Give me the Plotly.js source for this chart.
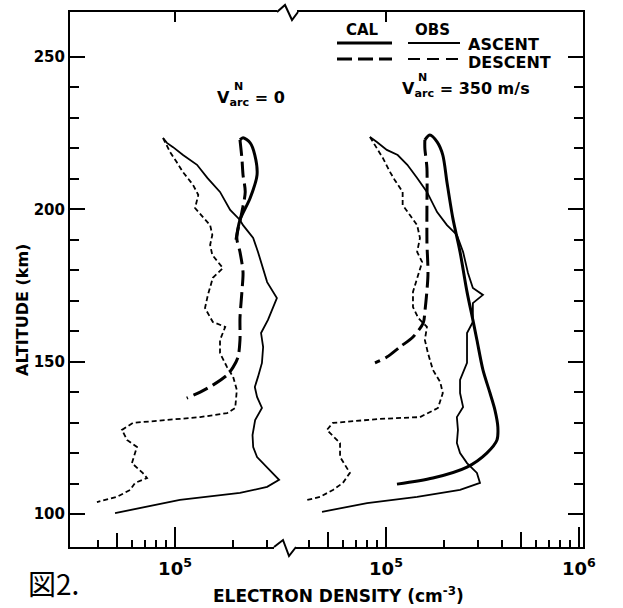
<!DOCTYPE html>
<html>
<head>
<meta charset="utf-8">
<script src="https://cdn.plot.ly/plotly-3.0.1.min.js"></script>
<style>html,body{margin:0;padding:0;background:#fff;}#chart{width:623px;height:608px;}</style>
</head>
<body>
<div id="chart"></div>
<script>
// ---------- Data (electron density in cm^-3, altitude in km) ----------
// Left panel: V_arc^N = 0
const obsAscAltL = [100.3,104.6,106.9,108.9,111.2,114.4,118.7,122.0,125.9,130.8,134.8,138.4,141.7,145.0,149.6,154.8,159.4,163.7,170.9,176.1,180.7,186.0,190.6,194.8,196.5,199.8,205.7,210.3,214.6,217.8,220.4,221.8,223.4];
const obsAscNL   = [48900,106000,217000,300000,346000,310000,266000,254000,252000,260000,282000,266000,259000,269000,282000,286000,279000,303000,337000,300000,286000,269000,254000,225000,217000,193000,171000,147000,130000,110000,97700,90800,86700];

const obsDesAltL = [223.4,218.8,215.5,212.2,208.0,204.7,200.4,197.5,194.8,191.6,188.3,185.0,181.7,180.7,177.5,171.9,167.6,163.0,161.4,157.1,152.8,148.2,145.0,140.7,134.8,133.1,131.8,130.8,129.9,127.6,124.3,122.0,116.7,113.4,111.8,110.2,107.9,105.6,103.9];
const obsDesNL   = [86700,94200,102000,110000,124000,132000,127000,140000,152000,156000,152000,156000,171000,177000,157000,148000,143000,157000,182000,171000,171000,186000,200000,209000,205000,186000,135000,90800,60500,53100,56400,63500,59800,68200,71600,62100,58500,50000,39400];

const calAscAltL = [190.0,196.5,203.7,211.3,217.8,221.8,223.5,222.8];
const calAscNL   = [207000,217000,245000,266000,259000,245000,225000,217000];

const calDesAltL = [222.8,216.8,211.3,205.7,199.1,190.6,186.0,179.4,172.9,164.3,157.1,151.5,148.2,145.6,142.3,140.0,138.0];
const calDesNL   = [217000,222000,225000,231000,222000,209000,217000,225000,222000,217000,217000,212000,200000,186000,157000,135000,115000];

// Right panel: V_arc^N = 350 m/s
const obsAscAltR = [100.7,103.6,105.6,107.9,110.2,113.5,116.7,120.0,123.3,127.6,131.8,135.1,139.7,144.0,149.6,153.8,159.4,163.0,169.2,171.9,174.2,179.1,186.0,191.6,194.8,199.1,205.7,210.3,214.6,217.8,219.5,222.1,223.7];
const obsAscNR   = [46600,79800,145000,242000,307000,296000,263000,242000,233000,236000,233000,251000,242000,242000,263000,263000,263000,282000,282000,318000,282000,266000,251000,233000,207000,184000,163000,145000,129000,115000,101000,89700,82600];

const obsDesAltR = [223.7,220.1,216.8,212.2,209.6,205.7,201.4,198.1,194.8,190.6,186.0,182.7,178.4,172.9,167.9,164.3,161.4,157.1,152.8,147.3,143.3,139.7,134.8,131.8,131.2,129.9,127.6,123.3,118.7,113.5,110.2,107.9,105.6,104.6];
const obsDesNR   = [82600,89700,96400,105000,111000,122000,122000,133000,145000,150000,145000,154000,147000,138000,138000,147000,163000,159000,165000,175000,191000,197000,186000,150000,93100,53100,49400,57800,57800,65000,59800,53100,45500,39000];

const calAscAltR = [109.8,111.8,115.4,120.0,124.3,128.5,134.1,139.7,147.3,157.1,163.7,172.9,186.0,197.1,208.9,217.8,222.1,224.4,222.8];
const calAscNR   = [114000,175000,263000,333000,376000,380000,367000,346000,318000,296000,282000,263000,242000,222000,207000,197000,184000,169000,159000];

const calDesAltR = [222.8,220.1,213.5,200.4,189.3,178.4,166.3,162.7,158.1,154.8,151.5,149.6];
const calDesNR   = [159000,159000,163000,163000,163000,165000,159000,156000,138000,118000,101000,87700];

// Tick values / labels
const yMajor = [100,150,200,250];
const yMinor = [110,120,130,140,160,170,180,190,210,220,230,240];
const xMajorL = [1e5], xMajorTextL = ['10<sup>5</sup>'];
const xMajorR = [1e5,1e6], xMajorTextR = ['10<sup>5</sup>','10<sup>6</sup>'];
const xMinorL = [4e4,6e4,7e4,8e4,9e4,2e5,3e5];
const xMinorR = [4e4,6e4,7e4,8e4,9e4,2e5,3e5,4e5,6e5,7e5,8e5,9e5];
const xMidL = [5e4], xMidR = [5e4,5e5];
const xTop = [1e5];

// ---------- Styling ----------
const K = '#000';
const FONT = 'DejaVu Sans, sans-serif';
const obsSolid = {color:K, width:1.8};
const obsDash  = {color:K, width:1.8, dash:'5px,3px'};
const calSolid = {color:K, width:3, shape:'spline', smoothing:0.8};
const calDash  = {color:K, width:3, dash:'16px,6px', shape:'spline', smoothing:0.8};

function tr(x, y, line, xa) {
  return {type:'scatter', mode:'lines', x:x, y:y, line:line, xaxis:xa, yaxis:'y', showlegend:false, hoverinfo:'skip'};
}
function empty(xa, ya) {
  return {type:'scatter', mode:'lines', x:[], y:[], xaxis:xa, yaxis:ya || 'y', showlegend:false, hoverinfo:'skip'};
}

const data = [
  tr(obsAscNL, obsAscAltL, obsSolid, 'x'),
  tr(obsDesNL, obsDesAltL, obsDash, 'x'),
  tr(calAscNL, calAscAltL, calSolid, 'x'),
  tr(calDesNL, calDesAltL, calDash, 'x'),
  tr(obsAscNR, obsAscAltR, obsSolid, 'x2'),
  tr(obsDesNR, obsDesAltR, obsDash, 'x2'),
  tr(calAscNR, calAscAltR, calSolid, 'x2'),
  tr(calDesNR, calDesAltR, calDash, 'x2'),
  empty('x3'), empty('x4'), empty('x5'), empty('x6'), empty('x2', 'y2')
];

const SPLIT = 0.423;
const rangeL = [4.456, 5.580];
const rangeR = [4.487, 6.021];
const yRange = [89.17, 264.75];
const tickFont = {family:FONT, size:18, color:K, weight:'bold'};

function mainX(domain, range, tv, tt, minor) {
  return {type:'log', domain:domain, range:range, anchor:'y', showline:true, linecolor:K, linewidth:2,
    mirror:true, ticks:'inside', ticklen:20, tickwidth:2, tickcolor:K, tickmode:'array',
    tickvals:tv, ticktext:tt, tickfont:tickFont, ticklabelstandoff:4, showgrid:false, zeroline:false, fixedrange:true,
    minor:{tickmode:'array', tickvals:minor, ticks:'inside', ticklen:7, tickwidth:2, tickcolor:K, showgrid:false}};
}
function overX(over, range, side, tv, len) {
  return {type:'log', overlaying:over, anchor:'y', side:side, range:range, showline:false,
    ticks:'inside', ticklen:len, tickwidth:2, tickcolor:K, tickmode:'array', tickvals:tv,
    showticklabels:false, showgrid:false, zeroline:false, fixedrange:true};
}

const P = (x) => (x - 70) / 513;     // pixel -> paper x
const Q = (y) => (547 - y) / 535;    // pixel -> paper y

const lab = (text, x, y, size, opts) => Object.assign({
  text:text, xref:'paper', yref:'paper', x:x, y:y, showarrow:false,
  font:{family:FONT, size:size, color:K, weight:'bold'}, xanchor:'center', yanchor:'middle'
}, opts || {});

const annotations = [
  lab('CAL', P(362), Q(30), 15),
  lab('OBS', P(432), Q(30), 15),
  lab('ASCENT', P(466), Q(44), 16, {xanchor:'left'}),
  lab('DESCENT', P(466), Q(62), 16, {xanchor:'left'}),
  lab('V<sub>arc</sub> = 0', P(215), Q(99), 16, {xanchor:'left'}),
  lab('N', P(232), Q(86), 11, {xanchor:'left'}),
  lab('V<sub>arc</sub> = 350 m/s', P(400), Q(90), 16, {xanchor:'left'}),
  lab('N', P(416), Q(77), 11, {xanchor:'left'}),
  lab('ELECTRON DENSITY (cm<sup>-3</sup>)', P(338), Q(595), 17),
  lab('ALTITUDE (km)', P(22), Q(310), 16, {textangle:-90}),
  {text:'図2.', xref:'paper', yref:'paper', x:P(26), y:Q(583), showarrow:false, xanchor:'left', yanchor:'middle',
   font:{family:'Noto Sans CJK JP, sans-serif', size:28, color:K}}
];

const shapes = [
  // legend line samples
  {type:'line', xref:'paper', yref:'paper', x0:P(337), x1:P(392), y0:Q(43), y1:Q(43), line:{color:K, width:3}},
  {type:'line', xref:'paper', yref:'paper', x0:P(408), x1:P(460), y0:Q(43), y1:Q(43), line:{color:K, width:1.8}},
  {type:'line', xref:'paper', yref:'paper', x0:P(337), x1:P(392), y0:Q(59), y1:Q(59), line:{color:K, width:3, dash:'15px,6px'}},
  {type:'line', xref:'paper', yref:'paper', x0:P(408), x1:P(460), y0:Q(59), y1:Q(59), line:{color:K, width:1.8, dash:'12px,7px'}},
  // axis-break masks
  {type:'rect', xref:'paper', yref:'paper', x0:P(277), x1:P(297), y0:Q(14), y1:Q(10), fillcolor:'#fff', line:{width:0}},
  {type:'rect', xref:'paper', yref:'paper', x0:P(274), x1:P(295), y0:Q(549), y1:Q(545), fillcolor:'#fff', line:{width:0}},
  // axis-break zigzags
  {type:'path', xref:'paper', yref:'paper', line:{color:K, width:2},
   path:`M${P(277)},${Q(12)} L${P(285)},${Q(5)} L${P(292)},${Q(20)} L${P(298)},${Q(12)}`},
  {type:'path', xref:'paper', yref:'paper', line:{color:K, width:2},
   path:`M${P(274)},${Q(547)} L${P(283)},${Q(540)} L${P(289)},${Q(556)} L${P(296)},${Q(547)}`}
];

const yTicks = {ticks:'inside', ticklen:15, tickwidth:2, tickcolor:K, tickmode:'array', tickvals:yMajor,
  showgrid:false, zeroline:false, fixedrange:true, showline:true, linecolor:K, linewidth:2,
  minor:{tickmode:'array', tickvals:yMinor, ticks:'inside', ticklen:9, tickwidth:2, tickcolor:K, showgrid:false}};

const layout = {
  width:623, height:608,
  margin:{l:70, r:40, t:12, b:61},
  paper_bgcolor:'#fff', plot_bgcolor:'#fff',
  showlegend:false,
  font:{family:FONT, color:K},
  xaxis: mainX([0, SPLIT], rangeL, xMajorL, xMajorTextL, xMinorL),
  xaxis2: mainX([SPLIT, 1], rangeR, xMajorR, xMajorTextR, xMinorR),
  xaxis3: overX('x', rangeL, 'top', xTop, 10),
  xaxis4: overX('x2', rangeR, 'top', xTop, 10),
  xaxis5: overX('x', rangeL, 'bottom', xMidL, 14),
  xaxis6: overX('x2', rangeR, 'bottom', xMidR, 15),
  yaxis: Object.assign({range:yRange, anchor:'x', side:'left', mirror:false,
    tickfont:{family:FONT, size:15, color:K, weight:'bold'}}, yTicks),
  yaxis2: Object.assign({range:yRange, overlaying:'y', anchor:'x2', side:'right', showticklabels:false}, yTicks),
  annotations: annotations,
  shapes: shapes
};

Plotly.newPlot('chart', data, layout, {staticPlot:true, displayModeBar:false});
</script>
</body>
</html>
